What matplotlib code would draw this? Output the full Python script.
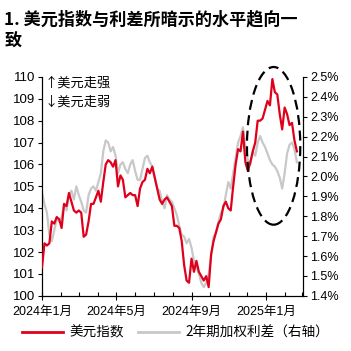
import matplotlib
matplotlib.use("Agg")
import matplotlib.pyplot as plt
import matplotlib.dates as mdates
from matplotlib.patches import Ellipse
from matplotlib.ticker import FuncFormatter, MultipleLocator
import pandas as pd

plt.rcParams['font.family'] = ['Liberation Sans', 'Noto Sans CJK SC', 'DejaVu Sans']

# sampling dates (every 4 days)
dates = pd.date_range('2024-01-01', '2025-02-20', freq='4D')

# 美元指数 (left axis)
dxy = [101.3, 102.4, 102.3, 102.4, 103.4, 103.3, 103.6, 103.5, 103.1, 104.2,
       104.1, 104.7, 104.3, 103.9, 103.8, 103.9, 103.8, 102.7, 102.8, 103.4,
       104.2, 104.2, 104.5, 104.8, 104.3, 105.2, 106.0, 106.2, 106.1, 105.9,
       106.2, 105.0, 105.5, 105.3, 104.5, 104.6, 104.7, 104.6, 104.6, 104.1,
       104.9, 105.2, 105.3, 105.8, 105.6, 105.9, 105.4, 104.9, 104.4, 104.2,
       104.4, 104.5, 104.3, 104.1, 103.2, 103.2, 103.1, 102.5, 101.4, 100.7,
       100.6, 101.7, 101.1, 101.6, 101.1, 100.9, 100.7, 100.9, 100.4, 101.9,
       102.5, 102.9, 103.3, 103.5, 104.1, 104.3, 104.0, 103.9, 105.0, 106.0,
       106.7, 106.6, 107.5, 106.1, 105.7, 106.1, 106.6, 107.0, 108.0, 108.0,
       108.1, 108.5, 108.9, 108.7, 109.9, 109.3, 109.2, 108.3, 107.6, 108.6,
       108.3, 107.8, 107.9, 107.1, 106.6]

# 2年期加权利差 (right axis, %)
spread = [1.917, 1.862, 1.818, 1.708, 1.675, 1.730, 1.785, 1.774, 1.796, 1.862,
          1.829, 1.906, 1.928, 1.884, 1.950, 1.906, 1.873, 1.829, 1.818, 1.906,
          1.939, 1.950, 1.928, 1.972, 2.016, 2.126, 2.181, 2.170, 2.126, 2.148,
          2.104, 2.016, 2.060, 2.071, 2.038, 2.016, 2.060, 2.082, 2.027, 1.983,
          1.983, 2.038, 2.093, 2.104, 2.071, 2.049, 1.994, 1.939, 1.928, 1.873,
          1.840, 1.906, 1.884, 1.873, 1.840, 1.807, 1.752, 1.708, 1.697, 1.664,
          1.686, 1.642, 1.576, 1.543, 1.510, 1.466, 1.444, 1.466, 1.510, 1.598,
          1.697, 1.719, 1.774, 1.818, 1.840, 1.906, 1.972, 1.939, 2.016, 2.093,
          2.170, 2.203, 2.247, 2.148, 2.082, 2.060, 2.126, 2.104, 2.170, 2.203,
          2.170, 2.148, 2.115, 2.082, 2.060, 2.049, 2.027, 1.994, 1.939, 2.016,
          2.115, 2.159, 2.170, 2.137, 2.071]

fig = plt.figure(figsize=(3.51, 3.51), dpi=100)
ax = fig.add_axes([0.1197, 0.157, 0.7436, 0.624])
ax2 = ax.twinx()

red = '#E0001B'
grey = '#C8C8C8'

ax.plot(dates, dxy, color=red, lw=1.6, zorder=3)
ax2.plot(dates, spread, color=grey, lw=1.6)
ax.set_zorder(ax2.get_zorder() + 1)
ax.patch.set_visible(False)

ax.set_ylim(100, 110)
ax.yaxis.set_major_locator(MultipleLocator(1))
ax2.set_ylim(1.4, 2.5)
ax2.yaxis.set_major_locator(MultipleLocator(0.1))
ax2.yaxis.set_major_formatter(FuncFormatter(lambda v, p: f'{v:.1f}%'))

ax.set_xlim(pd.Timestamp('2024-01-01'), pd.Timestamp('2025-03-02'))
ax.xaxis.set_major_locator(mdates.MonthLocator(bymonth=[1, 5, 9]))
ax.xaxis.set_minor_locator(mdates.MonthLocator())
ax.xaxis.set_major_formatter(FuncFormatter(
    lambda v, p: f'{mdates.num2date(v).year}年{mdates.num2date(v).month}月'))

for a in (ax, ax2):
    a.spines['top'].set_visible(False)
    for s in a.spines.values():
        s.set_linewidth(0.8)
    a.tick_params(labelsize=9, width=0.8, length=3, pad=2)
ax.tick_params(axis='y', labelsize=9.5)
ax.tick_params(axis='x', which='major', direction='inout', length=6, pad=4)
ax.tick_params(axis='x', which='minor', direction='in', length=3, width=0.8)
ax2.tick_params(axis='x', which='both', bottom=False, labelbottom=False)

# dashed ellipse around the divergence
ex = mdates.date2num(pd.Timestamp('2025-01-13'))
ell = Ellipse((ex, 106.85), width=87, height=7.2, fill=False, ec='black',
              lw=1.6, ls=(0, (4.5, 2.5)), clip_on=False, zorder=5)
ax.add_patch(ell)

cjk = ['Noto Sans CJK SC', 'DejaVu Sans']
ax.text(0.008, 0.97, '↑美元走强', transform=ax.transAxes, fontsize=9.5,
        family=cjk, va='center', ha='left')
ax.text(0.008, 0.885, '↓美元走弱', transform=ax.transAxes, fontsize=9.5,
        family=cjk, va='center', ha='left')

fig.text(0.012, 0.945, '1. 美元指数与利差所暗示的水平趋向一', fontsize=12.3,
         fontweight='bold', family=cjk, ha='left', va='center')
fig.text(0.012, 0.882, '致', fontsize=12.3, fontweight='bold', family=cjk,
         ha='left', va='center')

h1, = ax.plot([], [], color=red, lw=2)
h2, = ax.plot([], [], color=grey, lw=2)
fig.legend([h1, h2], ['美元指数', '2年期加权利差（右轴）'], loc='center',
           bbox_to_anchor=(0.5, 0.053), ncol=2, frameon=False,
           prop={'family': cjk, 'size': 9.8}, handlelength=3.0,
           handletextpad=0.5, columnspacing=1.0)

fig.savefig('out.png', dpi=100)
